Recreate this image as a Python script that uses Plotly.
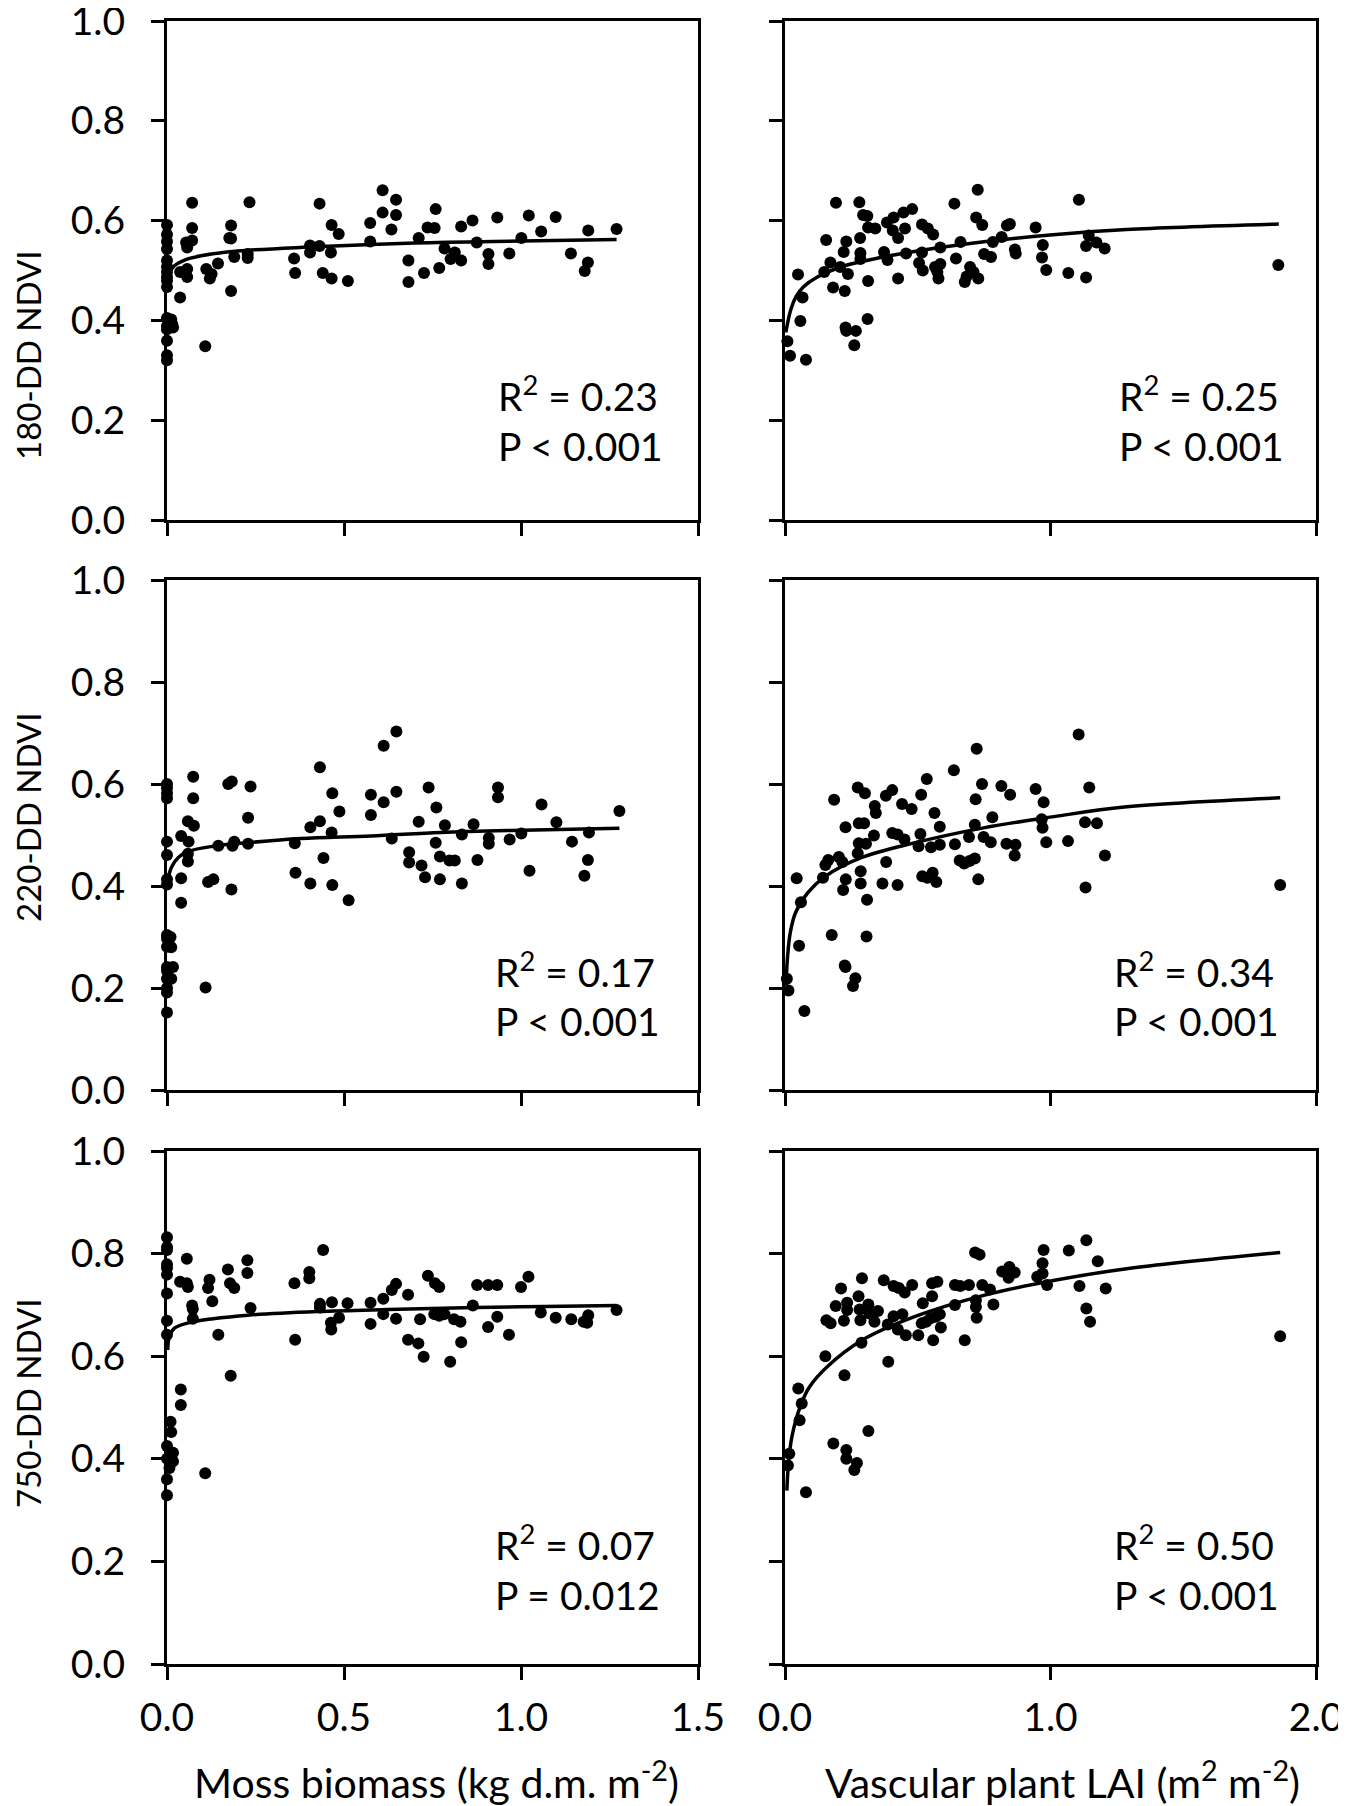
import plotly.graph_objects as go

# ---- data ------------------------------------------------------------------
# Moss biomass (kg d.m. m-2) vs 180-DD NDVI
moss_x_180 = [0, 0, 0, 0, 0, 0, 0, 0, 0, 0, 0, 0, 0, 0, 0, 0, 0.012, 0.017, 0.015,
              0.037, 0.037, 0.057, 0.057, 0.054, 0.057, 0.071, 0.071, 0.071, 0.108,
              0.111, 0.121, 0.126, 0.144, 0.181, 0.176, 0.181, 0.181, 0.190, 0.233,
              0.228, 0.228, 0.359, 0.362, 0.404, 0.404, 0.431, 0.431, 0.440, 0.463,
              0.465, 0.465, 0.485, 0.511, 0.574, 0.574, 0.609, 0.609, 0.634, 0.647,
              0.647, 0.682, 0.682, 0.711, 0.726, 0.736, 0.756, 0.759, 0.769, 0.784,
              0.801, 0.813, 0.831, 0.831, 0.863, 0.875, 0.908, 0.908, 0.933, 0.967,
              1.001, 1.022, 1.057, 1.098, 1.141, 1.180, 1.189, 1.190, 1.270]
ndvi_180_moss = [0.591, 0.572, 0.558, 0.543, 0.520, 0.507, 0.497, 0.487, 0.480, 0.467,
                 0.405, 0.389, 0.382, 0.359, 0.330, 0.320, 0.402, 0.386, 0.392,
                 0.446, 0.497, 0.503, 0.487, 0.556, 0.546, 0.636, 0.585, 0.560, 0.348,
                 0.503, 0.484, 0.493, 0.514, 0.590, 0.565, 0.564, 0.459, 0.527, 0.637,
                 0.533, 0.525, 0.524, 0.495, 0.550, 0.536, 0.634, 0.549, 0.495, 0.536,
                 0.591, 0.484, 0.573, 0.479, 0.595, 0.558, 0.661, 0.616, 0.582, 0.642,
                 0.611, 0.520, 0.477, 0.565, 0.495, 0.586, 0.585, 0.623, 0.505, 0.544,
                 0.523, 0.536, 0.588, 0.520, 0.600, 0.556, 0.533, 0.513, 0.606, 0.534,
                 0.565, 0.610, 0.578, 0.607, 0.534, 0.499, 0.516, 0.580, 0.583]
fit_moss_x_180 = [0.008, 0.02, 0.05, 0.1, 0.2, 0.4, 0.7, 1.0, 1.27]
fit_moss_y_180 = [0.497, 0.509, 0.521, 0.530, 0.539, 0.547, 0.555, 0.559, 0.562]

# Vascular plant LAI (m2 m-2) vs 180-DD NDVI
lai_x_180 = [0.009, 0.019, 0.079, 0.049, 0.058, 0.066, 0.155, 0.148, 0.171, 0.181,
             0.192, 0.208, 0.221, 0.225, 0.231, 0.237, 0.228, 0.231, 0.267, 0.261,
             0.280, 0.283, 0.284, 0.284, 0.294, 0.310, 0.313, 0.340, 0.313, 0.311,
             0.373, 0.386, 0.384, 0.409, 0.406, 0.426, 0.426, 0.446, 0.452, 0.456,
             0.479, 0.505, 0.516, 0.519, 0.516, 0.538, 0.558, 0.565, 0.574, 0.585,
             0.578, 0.585, 0.638, 0.644, 0.661, 0.677, 0.684, 0.697, 0.710, 0.728,
             0.720, 0.743, 0.726, 0.750, 0.776, 0.783, 0.816, 0.836, 0.847, 0.866,
             0.869, 0.944, 0.971, 0.968, 0.984, 1.067, 1.107, 1.134, 1.134, 1.144,
             1.173, 1.204, 1.858]
ndvi_180_lai = [0.358, 0.329, 0.321, 0.492, 0.399, 0.446, 0.561, 0.497, 0.516, 0.466,
                0.636, 0.507, 0.537, 0.459, 0.558, 0.493, 0.386, 0.379, 0.379, 0.350,
                0.637, 0.565, 0.535, 0.523, 0.611, 0.609, 0.586, 0.584, 0.479, 0.403,
                0.537, 0.521, 0.596, 0.606, 0.580, 0.565, 0.484, 0.616, 0.584, 0.534,
                0.623, 0.515, 0.592, 0.500, 0.536, 0.584, 0.572, 0.507, 0.497, 0.513,
                0.484, 0.546, 0.634, 0.524, 0.557, 0.477, 0.488, 0.507, 0.497, 0.484,
                0.606, 0.591, 0.662, 0.533, 0.527, 0.557, 0.567, 0.590, 0.593, 0.542,
                0.534, 0.586, 0.551, 0.526, 0.501, 0.495, 0.642, 0.549, 0.486, 0.570,
                0.556, 0.544, 0.511]
fit_lai_x_180 = [0.003, 0.022, 0.042, 0.069, 0.122, 0.228, 0.36, 0.558, 0.757, 1.021, 1.286, 1.86]
fit_lai_y_180 = [0.376, 0.422, 0.448, 0.467, 0.487, 0.510, 0.526, 0.544, 0.558, 0.572, 0.582, 0.593]

# Moss biomass vs 220-DD NDVI
moss_x_220 = [0, 0, 0, 0, 0, 0, 0, 0, 0, 0, 0, 0, 0, 0, 0, 0, 0, 0.010, 0.012, 0.017,
              0.012, 0.040, 0.040, 0.040, 0.059, 0.061, 0.059, 0.059, 0.074, 0.074,
              0.076, 0.109, 0.116, 0.131, 0.145, 0.173, 0.183, 0.182, 0.185, 0.190,
              0.229, 0.229, 0.236, 0.361, 0.363, 0.405, 0.405, 0.432, 0.432, 0.442,
              0.465, 0.467, 0.467, 0.487, 0.513, 0.576, 0.576, 0.612, 0.612, 0.635,
              0.648, 0.648, 0.684, 0.684, 0.711, 0.719, 0.729, 0.739, 0.759, 0.761,
              0.771, 0.771, 0.785, 0.798, 0.813, 0.833, 0.833, 0.866, 0.877, 0.909,
              0.909, 0.935, 0.935, 0.968, 1.001, 1.024, 1.058, 1.100, 1.144, 1.179,
              1.189, 1.192, 1.278]
ndvi_220_moss = [0.600, 0.592, 0.582, 0.572, 0.487, 0.461, 0.413, 0.403, 0.304, 0.297,
                 0.281, 0.241, 0.234, 0.218, 0.200, 0.191, 0.152, 0.300, 0.280, 0.241,
                 0.218, 0.498, 0.415, 0.367, 0.527, 0.487, 0.463, 0.448, 0.614, 0.572,
                 0.518, 0.201, 0.408, 0.413, 0.479, 0.600, 0.605, 0.393, 0.479, 0.487,
                 0.534, 0.483, 0.595, 0.484, 0.426, 0.515, 0.405, 0.633, 0.527, 0.455,
                 0.505, 0.582, 0.402, 0.546, 0.372, 0.579, 0.539, 0.675, 0.564, 0.493,
                 0.703, 0.585, 0.466, 0.446, 0.526, 0.440, 0.417, 0.593, 0.485, 0.554,
                 0.458, 0.413, 0.519, 0.450, 0.450, 0.501, 0.405, 0.521, 0.451, 0.494,
                 0.483, 0.593, 0.574, 0.491, 0.503, 0.430, 0.560, 0.525, 0.487, 0.420,
                 0.451, 0.505, 0.547]
fit_moss_x_220 = [0.003, 0.012, 0.032, 0.061, 0.131, 0.229, 0.378, 0.576, 0.773, 0.971, 1.278]
fit_moss_y_220 = [0.413, 0.436, 0.456, 0.468, 0.478, 0.485, 0.493, 0.498, 0.505, 0.509, 0.513]

# Vascular plant LAI vs 220-DD NDVI
lai_x_220 = [0.007, 0.013, 0.073, 0.044, 0.053, 0.060, 0.143, 0.152, 0.163, 0.176,
             0.185, 0.203, 0.216, 0.219, 0.225, 0.228, 0.228, 0.229, 0.256, 0.265,
             0.274, 0.301, 0.278, 0.298, 0.274, 0.278, 0.305, 0.285, 0.285, 0.309,
             0.307, 0.335, 0.338, 0.342, 0.367, 0.381, 0.380, 0.404, 0.404, 0.424,
             0.424, 0.441, 0.450, 0.477, 0.503, 0.510, 0.513, 0.517, 0.536, 0.556,
             0.570, 0.534, 0.550, 0.583, 0.563, 0.583, 0.636, 0.640, 0.658, 0.675,
             0.695, 0.715, 0.693, 0.715, 0.718, 0.722, 0.728, 0.742, 0.748, 0.775,
             0.781, 0.815, 0.834, 0.868, 0.848, 0.865, 0.944, 0.967, 0.970, 0.974,
             0.984, 1.066, 1.106, 1.130, 1.132, 1.146, 1.175, 1.205, 1.865]
ndvi_220_lai = [0.218, 0.195, 0.155, 0.415, 0.283, 0.368, 0.416, 0.441, 0.451, 0.304,
                0.569, 0.457, 0.447, 0.392, 0.244, 0.241, 0.515, 0.413, 0.204, 0.219,
                0.593, 0.582, 0.523, 0.523, 0.464, 0.484, 0.483, 0.429, 0.405, 0.373,
                0.301, 0.499, 0.557, 0.543, 0.405, 0.447, 0.577, 0.588, 0.504, 0.501,
                0.402, 0.561, 0.491, 0.551, 0.478, 0.502, 0.579, 0.419, 0.416, 0.426,
                0.408, 0.610, 0.476, 0.481, 0.543, 0.516, 0.627, 0.482, 0.450, 0.444,
                0.449, 0.454, 0.496, 0.520, 0.570, 0.669, 0.413, 0.600, 0.496, 0.486,
                0.535, 0.596, 0.483, 0.481, 0.579, 0.460, 0.590, 0.531, 0.514, 0.564,
                0.486, 0.488, 0.697, 0.525, 0.397, 0.593, 0.523, 0.460, 0.402]
fit_lai_x_220 = [0.004, 0.009, 0.020, 0.040, 0.086, 0.152, 0.285, 0.483, 0.748, 1.013, 1.278, 1.865]
fit_lai_y_220 = [0.205, 0.257, 0.309, 0.348, 0.387, 0.419, 0.455, 0.484, 0.514, 0.536, 0.555, 0.573]

# Moss biomass vs 750-DD NDVI
moss_x_750 = [0, 0, 0, 0, 0, 0, 0, 0, 0, 0, 0, 0, 0, 0.010, 0.012, 0.017, 0.017, 0.007,
              0.037, 0.039, 0.039, 0.056, 0.056, 0.059, 0.071, 0.073, 0.073, 0.108,
              0.116, 0.120, 0.128, 0.145, 0.172, 0.178, 0.190, 0.180, 0.227, 0.227,
              0.236, 0.360, 0.362, 0.402, 0.402, 0.432, 0.432, 0.441, 0.463, 0.464,
              0.466, 0.486, 0.510, 0.575, 0.575, 0.611, 0.611, 0.635, 0.647, 0.647,
              0.681, 0.681, 0.710, 0.715, 0.725, 0.737, 0.757, 0.769, 0.755, 0.769,
              0.784, 0.800, 0.811, 0.829, 0.831, 0.864, 0.876, 0.907, 0.933, 0.907,
              0.933, 0.966, 1.000, 1.021, 1.056, 1.098, 1.142, 1.177, 1.190, 1.187,
              1.270]
ndvi_750_moss = [0.832, 0.813, 0.807, 0.779, 0.772, 0.759, 0.722, 0.669, 0.642, 0.425,
                 0.400, 0.360, 0.329, 0.472, 0.452, 0.412, 0.395, 0.382,
                 0.745, 0.535, 0.505, 0.790, 0.742, 0.735, 0.699, 0.692, 0.673, 0.372,
                 0.733, 0.749, 0.707, 0.642, 0.769, 0.742, 0.733, 0.562, 0.787, 0.762,
                 0.694, 0.742, 0.632, 0.764, 0.752, 0.702, 0.695, 0.807, 0.665, 0.652,
                 0.705, 0.675, 0.703, 0.704, 0.663, 0.712, 0.682, 0.729, 0.741, 0.673,
                 0.720, 0.632, 0.625, 0.672, 0.599, 0.757, 0.742, 0.735, 0.682, 0.679,
                 0.682, 0.589, 0.672, 0.667, 0.627, 0.699, 0.739, 0.739, 0.739, 0.657,
                 0.677, 0.642, 0.735, 0.755, 0.685, 0.675, 0.672, 0.667, 0.680, 0.665,
                 0.690]
fit_moss_x_750 = [0.002, 0.007, 0.022, 0.061, 0.130, 0.229, 0.426, 0.624, 0.871, 1.068, 1.27]
fit_moss_y_750 = [0.612, 0.639, 0.655, 0.665, 0.673, 0.680, 0.687, 0.691, 0.695, 0.697, 0.699]

# Vascular plant LAI vs 750-DD NDVI
lai_x_750 = [0.011, 0.016, 0.079, 0.050, 0.063, 0.055, 0.152, 0.156, 0.172, 0.182,
             0.191, 0.211, 0.222, 0.224, 0.231, 0.231, 0.234, 0.234, 0.261, 0.271,
             0.277, 0.281, 0.284, 0.288, 0.290, 0.314, 0.317, 0.350, 0.314, 0.337,
             0.372, 0.387, 0.389, 0.409, 0.442, 0.409, 0.429, 0.451, 0.425, 0.455,
             0.479, 0.502, 0.515, 0.532, 0.548, 0.568, 0.583, 0.519, 0.554, 0.574,
             0.554, 0.558, 0.587, 0.640, 0.660, 0.693, 0.640, 0.677, 0.719, 0.719,
             0.722, 0.743, 0.772, 0.716, 0.733, 0.785, 0.818, 0.845, 0.865, 0.842,
             0.950, 0.970, 0.970, 0.974, 0.987, 1.069, 1.109, 1.135, 1.135, 1.149,
             1.178, 1.208, 1.865]
ndvi_750_lai = [0.387, 0.410, 0.335, 0.537, 0.508, 0.475, 0.600, 0.670, 0.664, 0.430,
                0.698, 0.732, 0.669, 0.563, 0.417, 0.400, 0.704, 0.690, 0.378, 0.392,
                0.717, 0.691, 0.670, 0.626, 0.752, 0.701, 0.683, 0.688, 0.454, 0.667,
                0.748, 0.662, 0.589, 0.678, 0.682, 0.737, 0.733, 0.724, 0.652, 0.641,
                0.739, 0.641, 0.664, 0.667, 0.674, 0.677, 0.682, 0.703, 0.742, 0.745,
                0.717, 0.631, 0.656, 0.739, 0.737, 0.739, 0.700, 0.631, 0.709, 0.696,
                0.675, 0.739, 0.730, 0.802, 0.798, 0.701, 0.765, 0.774, 0.763, 0.753,
                0.755, 0.761, 0.781, 0.807, 0.739, 0.806, 0.737, 0.826, 0.693, 0.667,
                0.785, 0.732, 0.639]
fit_lai_x_750 = [0.007, 0.013, 0.026, 0.059, 0.092, 0.158, 0.290, 0.488, 0.752, 1.016, 1.280, 1.865]
fit_lai_y_750 = [0.338, 0.390, 0.443, 0.504, 0.540, 0.579, 0.631, 0.677, 0.719, 0.748, 0.770, 0.802]

r2_labels = ["0.23", "0.25", "0.17", "0.34", "0.07", "0.50"]
p_labels = ["P &lt; 0.001", "P &lt; 0.001", "P &lt; 0.001", "P &lt; 0.001", "P = 0.012", "P &lt; 0.001"]
row_titles = ["180-DD NDVI", "220-DD NDVI", "750-DD NDVI"]
col_titles = ["Moss biomass (kg d.m. m<sup>-2</sup>)", "Vascular plant LAI (m<sup>2</sup> m<sup>-2</sup>)"]

# ---- figure ----------------------------------------------------------------
# The page body keeps an 8 px margin; positions below are window pixels and
# are shifted back by that margin.
PAGE_PAD = 8
W, H = 1346, 1806
FONT = "Lato"
TICK_FS = 39
NOTE_FS = 39


def fx_(px):
    return (px - PAGE_PAD) / W


def fy_(py):
    return 1 - (py - PAGE_PAD) / H


x_domains = [[fx_(167), fx_(698)], [fx_(785), fx_(1316)]]
y_domains = [[fy_(520), fy_(21)], [fy_(1090), fy_(580)], [fy_(1664), fy_(1151)]]

# where the R2 / P lines sit, in data units of each panel
note_x = [0.93, 1.25, 0.92, 1.23, 0.92, 1.23]
note_y = [(0.253, 0.148), (0.253, 0.148), (0.237, 0.136), (0.237, 0.136),
          (0.236, 0.134), (0.236, 0.134)]

panels = [
    (moss_x_180, ndvi_180_moss, fit_moss_x_180, fit_moss_y_180),
    (lai_x_180, ndvi_180_lai, fit_lai_x_180, fit_lai_y_180),
    (moss_x_220, ndvi_220_moss, fit_moss_x_220, fit_moss_y_220),
    (lai_x_220, ndvi_220_lai, fit_lai_x_220, fit_lai_y_220),
    (moss_x_750, ndvi_750_moss, fit_moss_x_750, fit_moss_y_750),
    (lai_x_750, ndvi_750_lai, fit_lai_x_750, fit_lai_y_750),
]

fig = go.Figure()
layout = {}
annotations = []
note_font = dict(family=FONT, size=NOTE_FS, color="black")

for i, (px, py, fx, fy) in enumerate(panels):
    n = i + 1
    row, col = divmod(i, 2)
    xa = "x" if n == 1 else f"x{n}"
    ya = "y" if n == 1 else f"y{n}"

    fig.add_trace(go.Scatter(x=px, y=py, xaxis=xa, yaxis=ya, mode="markers",
                             marker=dict(color="black", size=12),
                             cliponaxis=False, showlegend=False, hoverinfo="skip"))
    fig.add_trace(go.Scatter(x=fx, y=fy, xaxis=xa, yaxis=ya, mode="lines",
                             line=dict(color="black", width=3.5, shape="spline"),
                             cliponaxis=False, showlegend=False, hoverinfo="skip"))

    xmax = 1.5 if col == 0 else 2.0
    layout["xaxis" if n == 1 else f"xaxis{n}"] = dict(
        domain=x_domains[col], anchor=ya, range=[0, xmax],
        dtick=0.5 if col == 0 else 1.0, tick0=0, tickformat=".1f",
        showticklabels=(row == 2), ticks="outside", ticklen=13, tickwidth=3,
        tickcolor="black", showline=True, linewidth=3, linecolor="black",
        mirror=True, showgrid=False, zeroline=False, automargin=False,
        ticklabelstandoff=4, ticklabeloverflow="allow",
        tickfont=dict(family=FONT, size=TICK_FS, color="black"))
    layout["yaxis" if n == 1 else f"yaxis{n}"] = dict(
        domain=y_domains[row], anchor=xa, range=[0, 1.0],
        dtick=0.2, tick0=0, tickformat=".1f",
        showticklabels=(col == 0), ticks="outside", ticklen=13, tickwidth=3,
        tickcolor="black", showline=True, linewidth=3, linecolor="black",
        mirror=True, showgrid=False, zeroline=False, automargin=False,
        ticklabelstandoff=18, ticklabeloverflow="allow",
        tickfont=dict(family=FONT, size=TICK_FS, color="black"))

    ry, py_ = note_y[i]
    annotations.append(dict(xref=xa, yref=ya, x=note_x[i], y=ry, xanchor="left",
                            yanchor="middle", showarrow=False, font=note_font,
                            text=f"R<sup>2</sup> = {r2_labels[i]}"))
    annotations.append(dict(xref=xa, yref=ya, x=note_x[i], y=py_, xanchor="left",
                            yanchor="middle", showarrow=False, font=note_font,
                            text=p_labels[i]))

# y axis titles (rotated) and x axis titles
for row, title in enumerate(row_titles):
    yc = [355, 817, 1403][row]
    annotations.append(dict(xref="paper", yref="paper", x=fx_(28), y=fy_(yc),
                            xanchor="center", yanchor="middle", showarrow=False,
                            textangle=-90, text=title,
                            font=dict(family=FONT, size=33, color="black")))
for col, title in enumerate(col_titles):
    xc = [436, 1062][col]
    annotations.append(dict(xref="paper", yref="paper", x=fx_(xc), y=fy_(1780),
                            xanchor="center", yanchor="middle", showarrow=False,
                            text=title, font=dict(family=FONT, size=41, color="black")))

fig.update_layout(
    width=W, height=H,
    margin=dict(l=0, r=0, t=0, b=0),
    paper_bgcolor="white", plot_bgcolor="white",
    font=dict(family=FONT, size=TICK_FS, color="black"),
    showlegend=False,
    annotations=annotations,
    **layout,
)

fig.write_html("out.html")
